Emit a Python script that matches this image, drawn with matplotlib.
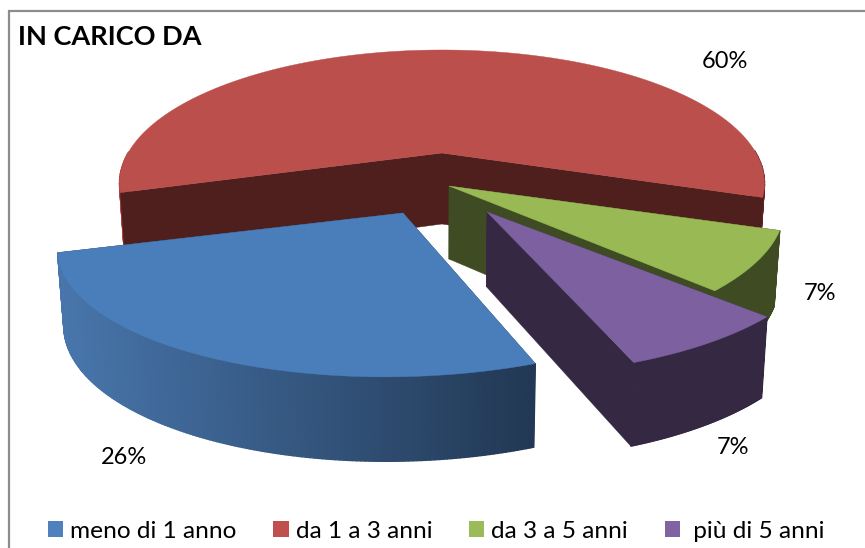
import numpy as np
import matplotlib
matplotlib.use("Agg")
import matplotlib.pyplot as plt
from matplotlib.patches import Polygon, Patch

title = "IN CARICO DA"
categories = ["meno di 1 anno", "da 1 a 3 anni", "da 3 a 5 anni", " più di 5 anni"]
values = [26, 60, 7, 7]
value_labels = ["26%", "60%", "7%", "7%"]

legend_colors = ["#4f81bd", "#c0504d", "#9bbb59", "#8064a2"]
top_colors = ["#4a7ebb", "#bb4f4c", "#98b954", "#7d60a0"]
cut_colors = ["#243c5a", "#4f1f1e", "#3f4b22", "#352842"]

# wedge placement in pixels: apex, x scale, shear (fake Excel perspective)
apex = [(403, 213), (442, 153), (449, 186), (487, 212)]
x_scale = [1.06, 1.0, 1.052, 1.046]
shear = [0.11, 0.0, 0.15, 0.0]
label_pos = [(124, 457), (725, 61), (820, 293), (733, 448)]

A, B, K = 314, 126.5, 0.228
START = 197  # red starts here and the slices run clockwise


def project(i, ang):
    X, Y = np.cos(ang), np.sin(ang)
    w = 1 + K * Y
    sx, sy = A * X / w, B * Y / w
    return apex[i][0] + x_scale[i] * sx + shear[i] * sy, apex[i][1] - sy


def drop(x, y):
    # bottom rim of the disc, slightly narrower and deeper near the viewer
    return x - 0.0165 * (x - 442), y + 71 + 0.06 * (y - 153)


def mix(c1, c2, t):
    return tuple((1 - t) * a + t * b for a, b in zip(c1, c2))


def wall_color(i, x):
    t = np.clip((x - 57) / (535 - 57), 0, 1)
    if i == 0:
        return mix((72 / 255, 118 / 255, 172 / 255), (34 / 255, 56 / 255, 84 / 255), t)
    if i == 1:
        return "#a8423f" if x < 300 else "#5c2120"
    return cut_colors[i]


fig = plt.figure(figsize=(8.65, 5.48), dpi=100)
ax = fig.add_axes([0, 0, 1, 1])
ax.set_xlim(0, 865)
ax.set_ylim(548, 0)
ax.axis("off")

ax.plot([9, 9, 865], [548, 11, 11], color="#8c8c8c", lw=1.6, solid_joinstyle="miter")

# slice angles come from the values, order: blue, then red, green, purple going clockwise
ends = {}
a = START
for i in [1, 2, 3, 0]:
    ends[i] = (a, a - values[i] * 3.6)
    a = ends[i][1]

for z, i in enumerate([1, 2, 3, 0]):
    a0, a1 = np.radians(ends[i])
    angs = np.linspace(a0, a1, 161)
    rx, ry = project(i, angs)
    ax0, ay0 = apex[i]
    bx, by = drop(rx, ry)
    b0x, b0y = drop(ax0, ay0)

    # the blue cut faces point away from the viewer, so they go under its wall
    cut_z = 2 if i == 0 else 3
    wall_z = 3 if i == 0 else 2

    # cut faces
    for k in [0, -1]:
        ax.add_patch(Polygon([(ax0, ay0), (rx[k], ry[k]), (bx[k], by[k]), (b0x, b0y)],
                             fc=cut_colors[i], ec=cut_colors[i], lw=0.3, zorder=cut_z + z * 3))
    # outer wall, only the part that faces the viewer; one facet per step so blue can shade
    for k in range(len(angs) - 1):
        if np.sin(angs[k]) >= 0 and np.sin(angs[k + 1]) >= 0:
            continue
        col = wall_color(i, rx[k])
        ax.add_patch(Polygon([(rx[k], ry[k]), (rx[k + 1], ry[k + 1]), (bx[k + 1], by[k + 1]), (bx[k], by[k])],
                             fc=col, ec=col, lw=1.0, zorder=wall_z + z * 3))
    # top
    ax.add_patch(Polygon(np.vstack([[ax0, ay0], np.column_stack([rx, ry])]),
                         fc=top_colors[i], ec=top_colors[i], lw=0.3, zorder=4 + z * 3))

for lab, (x, y) in zip(value_labels, label_pos):
    ax.text(x, y, lab, fontsize=17, family="Lato", ha="center", va="center", color="black", zorder=30)

ax.text(18, 37, title, fontsize=19.5, family="Lato", fontweight="bold", ha="left", va="center", zorder=30)

handles = [Patch(fc=c, ec="none") for c in legend_colors]
ax.legend(handles, categories, loc="lower left", bbox_to_anchor=(42 / 865, 0.0), ncol=4, frameon=False,
          prop={"family": "Lato", "size": 17.6}, handlelength=0.62, handleheight=0.62, handletextpad=0.29,
          columnspacing=1.5, borderaxespad=0, borderpad=0.25)

fig.savefig("out.png", dpi=100)
